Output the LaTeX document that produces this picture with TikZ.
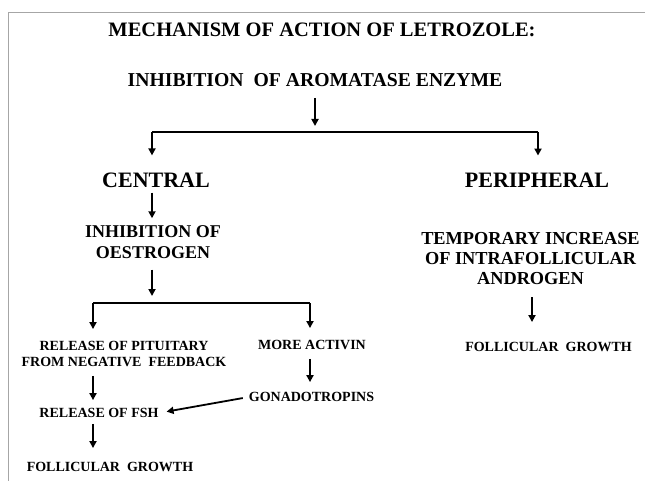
\documentclass[tikz,border=0pt]{standalone}
\usepackage{fontspec}
\setmainfont{Liberation Serif}
\usetikzlibrary{arrows.meta}
\tikzset{
  arr/.style={line width=1.8pt,-{Triangle[length=7pt,width=7pt]}},
  ln/.style={line width=1.8pt},
  txt/.style={inner sep=0pt,align=center,font=\bfseries},
  big/.style={txt,font=\bfseries\fontsize{20.5}{24}\selectfont},
  bigb/.style={txt,font=\bfseries\fontsize{19.7}{24}\selectfont},
  huge/.style={txt,font=\bfseries\fontsize{22}{27}\selectfont},
  mid/.style={txt,font=\bfseries\fontsize{18}{21}\selectfont},
  midr/.style={txt,font=\bfseries\fontsize{18.3}{20}\selectfont},
  small/.style={txt,font=\bfseries\fontsize{14}{16}\selectfont},
}
\begin{document}
\begin{tikzpicture}[x=1pt,y=-1pt]
\useasboundingbox (0,0) rectangle (645,481);
\draw[gray!70,line width=1pt] (8,481) -- (8,13) -- (645,13);
\node[big] (t1) at (322,30) {MECHANISM OF ACTION OF LETROZOLE:};
\node[bigb] (t2) at (315,80) {INHIBITION\ \ OF AROMATASE ENZYME};
\coordinate (b1) at (315,132);
\coordinate (bl) at (152,132);
\coordinate (br) at (538,132);
\node[huge] (cen) at (156,180) {CENTRAL};
\node[huge] (per) at (537,180) {PERIPHERAL};
\node[mid] (inh) at (153,242) {INHIBITION OF\\OESTROGEN};
\node[midr] (tmp) at (530.5,259) {TEMPORARY INCREASE\\OF INTRAFOLLICULAR\\ANDROGEN};
\coordinate (pr) at (532,290);
\node[small] (fr) at (548.5,347) {FOLLICULAR\ \ GROWTH};
\coordinate (b2) at (152,303);
\coordinate (b2l) at (93,303);
\coordinate (b2r) at (310,303);
\node[small] (rel) at (124,354) {RELEASE OF PITUITARY\\FROM NEGATIVE\ \ FEEDBACK};
\node[small] (act) at (312,345) {MORE ACTIVIN};
\node[small] (gon) at (311.5,397) {GONADOTROPINS};
\node[small] (fsh) at (99,413) {RELEASE OF FSH};
\node[small] (fl) at (110,467) {FOLLICULAR\ \ GROWTH};
% connectors
\draw[arr,shorten <=11pt,shorten >=6pt] (t2.south -| b1) -- (b1);
\draw[ln] (bl) -- (br);
\draw[arr,shorten >=17pt] (bl) -- (bl |- cen.north);
\draw[arr,shorten >=17pt] (br) -- (br |- per.north);
\draw[arr,shorten <=5pt,shorten >=7pt] (cen.south -| bl) -- (bl |- inh.north);
\draw[arr,shorten <=11pt,shorten >=7pt] (inh.south -| b2) -- (b2);
\draw[ln] (b2l) -- (b2r);
\draw[arr,shorten >=12pt] (b2l) -- (b2l |- rel.north);
\draw[arr,shorten >=12pt] (b2r) -- (b2r |- act.north);
\draw[arr,shorten <=7pt,shorten >=20pt] (pr) -- (pr |- fr.north);
\draw[arr,shorten <=9pt,shorten >=10pt] (act.south -| b2r) -- (b2r |- gon.north);
\draw[arr,shorten <=9pt,shorten >=8pt] (rel.south -| b2l) -- (b2l |- fsh.north);
\draw[arr,shorten <=6pt,shorten >=14pt] (fsh.south -| b2l) -- (b2l |- fl.north);
\draw[arr,shorten <=6pt,shorten >=8pt] (gon.west) -- (fsh.east);
\end{tikzpicture}
\end{document}
